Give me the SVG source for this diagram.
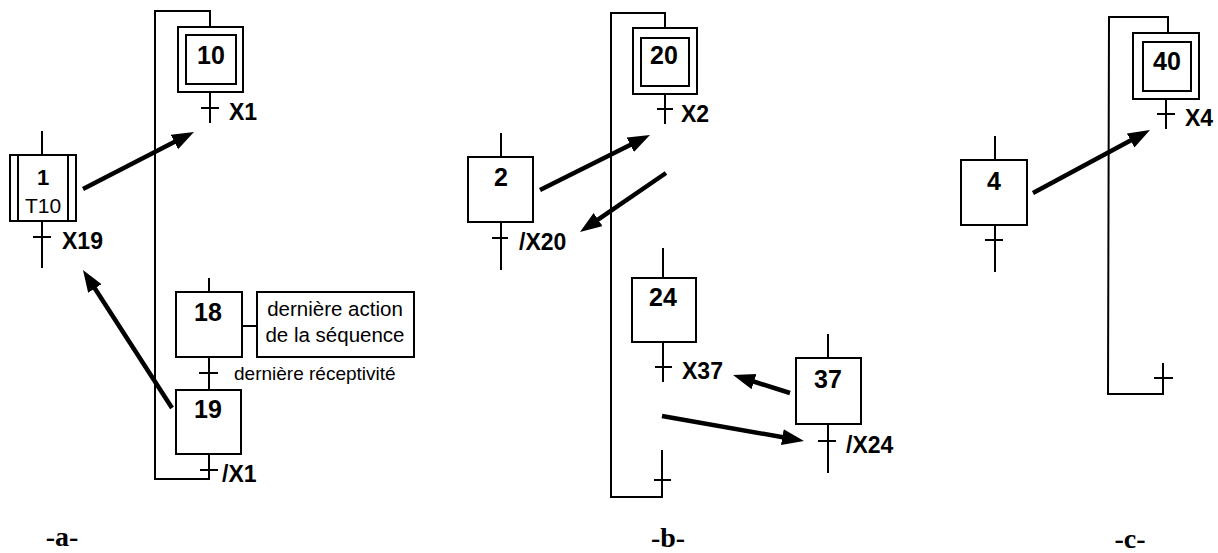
<svg xmlns="http://www.w3.org/2000/svg" width="1218" height="553" viewBox="0 0 1218 553">
<style>
.box{fill:#fff;stroke:#000;stroke-width:2}
.ln{fill:none;stroke:#000;stroke-width:2}
.arr{fill:none;stroke:#000;stroke-width:4.5;marker-end:url(#ah)}
.num{font-family:"Liberation Sans",Arial,sans-serif;font-weight:bold;font-size:25px;text-anchor:middle}
.lbl{font-family:"Liberation Sans",Arial,sans-serif;font-weight:bold;font-size:23px}
.txt{font-family:"Liberation Sans",Arial,sans-serif;font-size:20.5px}
.cap{font-family:"Liberation Serif","Times New Roman",serif;font-weight:bold;font-size:28px;text-anchor:middle}
</style>
<defs>
<marker id="ah" markerUnits="userSpaceOnUse" markerWidth="24" markerHeight="18" refX="2" refY="8" orient="auto">
<path d="M0,0 L22,8 L0,16 z" fill="#000"/>
</marker>
</defs>
<rect width="1218" height="553" fill="#fff"/>

<g id="connectors">
<!-- part a -->
<polyline class="ln" points="210,27 210,11 155,11 155,479 209,479 209,454"/>
<line class="ln" x1="210" y1="92" x2="210" y2="123"/>
<line class="ln" x1="201" y1="108" x2="219" y2="108"/>
<line class="ln" x1="42" y1="131" x2="42" y2="155"/>
<line class="ln" x1="42" y1="221" x2="42" y2="268"/>
<line class="ln" x1="33" y1="237" x2="51" y2="237"/>
<line class="ln" x1="209" y1="278" x2="209" y2="292"/>
<line class="ln" x1="209" y1="357" x2="209" y2="390"/>
<line class="ln" x1="199" y1="373" x2="218" y2="373"/>
<line class="ln" x1="242" y1="326" x2="257" y2="326"/>
<line class="ln" x1="200" y1="470" x2="218" y2="470"/>
<line class="arr" x1="83" y1="189" x2="176.2" y2="141.1"/>
<line class="arr" x1="172" y1="408" x2="93.8" y2="286.8"/>
<!-- part b -->
<polyline class="ln" points="665,28 665,13 611,13 611,497 662,497 662,450"/>
<line class="ln" x1="665" y1="94" x2="665" y2="124"/>
<line class="ln" x1="657" y1="109" x2="673" y2="109"/>
<line class="ln" x1="501" y1="133" x2="501" y2="157"/>
<line class="ln" x1="501" y1="222" x2="501" y2="270"/>
<line class="ln" x1="492" y1="238" x2="508" y2="238"/>
<line class="ln" x1="663" y1="248" x2="663" y2="278"/>
<line class="ln" x1="663" y1="342" x2="663" y2="382"/>
<line class="ln" x1="655" y1="367" x2="672" y2="367"/>
<line class="ln" x1="654" y1="480" x2="671" y2="480"/>
<line class="ln" x1="828" y1="334" x2="828" y2="358"/>
<line class="ln" x1="828" y1="424" x2="828" y2="473"/>
<line class="ln" x1="818" y1="441" x2="836" y2="441"/>
<line class="arr" x1="540" y1="190" x2="632.1" y2="143.9"/>
<line class="arr" x1="666" y1="173" x2="596.5" y2="220.7"/>
<line class="arr" x1="790" y1="393" x2="752.1" y2="381"/>
<line class="arr" x1="662" y1="416" x2="784.3" y2="437.5"/>
<!-- part c -->
<polyline class="ln" points="1168,33 1168,17 1109,17 1108,394 1163,394 1163,363"/>
<line class="ln" x1="1154" y1="378" x2="1173" y2="378"/>
<line class="ln" x1="1166" y1="99" x2="1166" y2="129"/>
<line class="ln" x1="1157" y1="114" x2="1175" y2="114"/>
<line class="ln" x1="995" y1="136" x2="995" y2="160"/>
<line class="ln" x1="995" y1="225" x2="995" y2="272"/>
<line class="ln" x1="985" y1="240" x2="1003" y2="240"/>
<line class="arr" x1="1033" y1="193" x2="1132.4" y2="139.5"/>
</g>

<g id="step10">
<rect class="box" x="178" y="27" width="65" height="65"/>
<rect class="box" x="186" y="35" width="50" height="49"/>
<text class="num" x="211" y="64">10</text>
</g>
<text class="lbl" x="229" y="120">X1</text>

<g id="step1">
<rect class="box" x="10" y="155" width="66" height="66"/>
<line class="ln" x1="18" y1="155" x2="18" y2="221"/>
<line class="ln" x1="68" y1="155" x2="68" y2="221"/>
<text class="num" x="43" y="185" style="font-size:22px">1</text>
<text class="txt" x="43" y="213" text-anchor="middle" style="font-size:21px">T10</text>
</g>
<text class="lbl" x="62" y="249">X19</text>

<g id="step18">
<rect class="box" x="176" y="292" width="66" height="65"/>
<text class="num" x="208" y="321">18</text>
</g>
<g id="action18">
<rect class="box" x="257" y="292" width="157" height="65"/>
<text class="txt" x="335" y="316" text-anchor="middle">dernière action</text>
<text class="txt" x="335" y="342" text-anchor="middle">de la séquence</text>
</g>
<text class="txt" x="234" y="380" style="font-size:19px">dernière réceptivité</text>

<g id="step19">
<rect class="box" x="176" y="390" width="65" height="64"/>
<text class="num" x="208" y="418">19</text>
</g>
<text class="lbl" x="222" y="482">/X1</text>

<g id="step20">
<rect class="box" x="633" y="28" width="64" height="66"/>
<rect class="box" x="641" y="38" width="48" height="48"/>
<text class="num" x="664" y="64">20</text>
</g>
<text class="lbl" x="681" y="122">X2</text>

<g id="step2">
<rect class="box" x="468" y="157" width="65" height="65"/>
<text class="num" x="501" y="186">2</text>
</g>
<text class="lbl" x="519" y="250">/X20</text>

<g id="step24">
<rect class="box" x="632" y="278" width="64" height="64"/>
<text class="num" x="663" y="306">24</text>
</g>
<text class="lbl" x="682" y="379">X37</text>

<g id="step37">
<rect class="box" x="796" y="358" width="65" height="66"/>
<text class="num" x="828" y="388">37</text>
</g>
<text class="lbl" x="846" y="453">/X24</text>

<g id="step40">
<rect class="box" x="1133" y="33" width="66" height="66"/>
<rect class="box" x="1143" y="42" width="48" height="49"/>
<text class="num" x="1167" y="70">40</text>
</g>
<text class="lbl" x="1185" y="126">X4</text>

<g id="step4">
<rect class="box" x="961" y="160" width="66" height="65"/>
<text class="num" x="994" y="190">4</text>
</g>

<text class="cap" x="62" y="546">-a-</text>
<text class="cap" x="668" y="547">-b-</text>
<text class="cap" x="1130" y="548">-c-</text>
</svg>
